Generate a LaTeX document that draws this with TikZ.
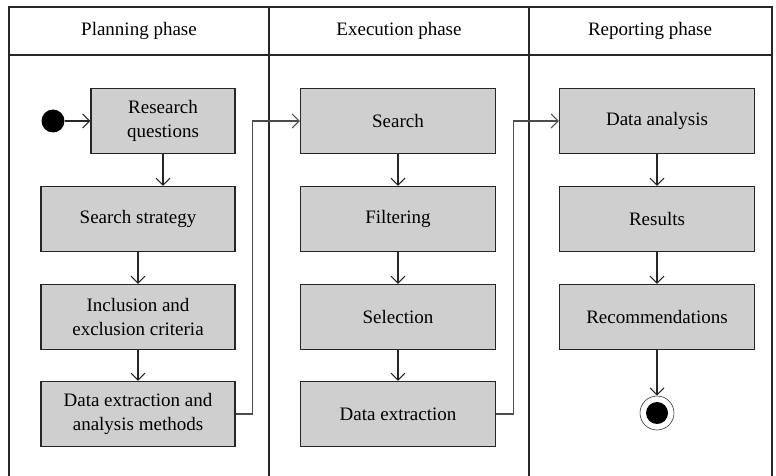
\documentclass[tikz,border=0pt]{standalone}
\usepackage{fontspec}
\setmainfont{Liberation Serif}
\usepackage{tikz}
\usetikzlibrary{arrows.meta}

\begin{document}
\begin{tikzpicture}[x=1pt, y=-1pt,
    activity/.style ={rectangle, draw=black!85, line width=1.1pt, fill=black!19, minimum width=195pt, minimum height=65pt, align=center, inner sep=2pt, font=\fontsize{19}{24}\selectfont},
    heading/.style ={font=\fontsize{19}{24}\selectfont},
    flow/.style ={draw=black!85, line width=1.1pt, -{Straight Barb[length=7pt,width=14pt]}},
    cross/.style ={draw=black!70, line width=1.1pt, -{Straight Barb[length=7pt,width=14pt]}},
    lane/.style ={draw=black!85, line width=1.2pt}]
   \useasboundingbox (0,0) rectangle (776,476);

   % swimlanes
   \draw[lane] (9,476) -- (9,7) -- (772,7) -- (772,476);
   \draw[lane, line width=2pt] (9,55) -- (772,55);
   \draw[lane] (269,7) -- (269,476);
   \draw[lane] (529,7) -- (529,476);
   \node[heading] (P) at (139,31) {Planning phase};
   \node[heading] (X) at (399,31) {Execution phase};
   \node[heading] (R) at (650,31) {Reporting phase};

   % planning
   \node[circle, fill=black, inner sep=0pt, minimum size=23pt] (S) at (53,121) {};
   \node[activity, minimum width=144pt] (A) at (163,121) {Research\\questions};
   \node[activity, minimum width=194pt] (B) at (138,219) {Search strategy};
   \node[activity, minimum width=194pt] (C) at (138,317) {Inclusion and\\exclusion criteria};
   \node[activity, minimum width=194pt] (D) at (138,414) {Data extraction and\\analysis methods};

   % execution
   \node[activity] (E) at (398,121) {Search};
   \node[activity] (F) at (398,219) {Filtering};
   \node[activity] (G) at (398,317) {Selection};
   \node[activity] (H) at (398,414) {Data extraction};

   % reporting
   \node[activity] (I) at (657,121) {Data analysis};
   \node[activity] (J) at (657,219) {Results};
   \node[activity] (K) at (657,317) {Recommendations};
   \node[circle, draw=black!80, line width=0.6pt, inner sep=0pt, minimum size=34pt] (Z) at (657,413) {};
   \node[circle, fill=black, inner sep=0pt, minimum size=22pt] (Z1) at (Z) {};

   \draw[flow] (S) to (A);
   \draw[flow] (A) -- (A |- B.north);
   \draw[flow] (B) to (C);
   \draw[flow] (C) to (D);
   \draw[cross] (D.east) -- ++(17,0) |- (E);
   \draw[flow] (E) to (F);
   \draw[flow] (F) to (G);
   \draw[flow] (G) to (H);
   \draw[cross] (H.east) -- ++(17,0) |- (I);
   \draw[flow] (I) to (J);
   \draw[flow] (J) to (K);
   \draw[flow] (K) to (Z);

 \end{tikzpicture}
\end{document}
